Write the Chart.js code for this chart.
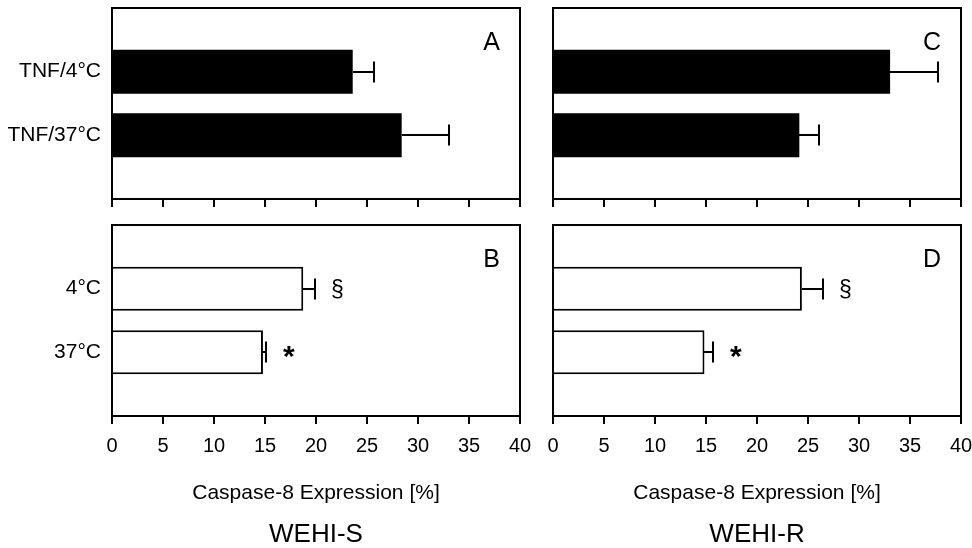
<!DOCTYPE html>
<html>
<head>
<meta charset="utf-8">
<script src="https://cdn.jsdelivr.net/npm/chart.js@4.4.1/dist/chart.umd.min.js"></script>
<style>
  html, body { margin: 0; padding: 0; background: #fff; overflow: hidden; width: 972px; height: 548px; }
  canvas { position: absolute; }
</style>
</head>
<body>
<canvas id="panelA" width="536" height="215" style="left:0;top:0"></canvas>
<canvas id="panelB" width="536" height="337" style="left:0;top:212px"></canvas>
<canvas id="panelC" width="436" height="215" style="left:536px;top:0"></canvas>
<canvas id="panelD" width="436" height="337" style="left:536px;top:212px"></canvas>
<script>
// Category labels for the upper (TNF-treated) and lower (untreated) panels
const tnfLabels = ['TNF/4°C', 'TNF/37°C'];
const ctrlLabels = ['4°C', '37°C'];

// Value axis
const xMin = 0;
const xMax = 40;
const xStep = 5;
const xTitle = 'Caspase-8 Expression [%]';

// WEHI-S: mean caspase-8 expression and error (%)
const wehiS_tnf = [23.6, 28.4];
const wehiS_tnfErr = [2.1, 4.6];
const wehiS_ctrl = [18.75, 14.8];
const wehiS_ctrlErr = [1.15, 0.25];

// WEHI-R: mean caspase-8 expression and error (%)
const wehiR_tnf = [33.05, 24.15];
const wehiR_tnfErr = [4.65, 1.95];
const wehiR_ctrl = [24.4, 14.85];
const wehiR_ctrlErr = [2.05, 0.85];

// Significance marks for the lower panels
const sigMarks = ['§', '*'];

// Panel letters and cell-line names
const panelLetters = ['A', 'B', 'C', 'D'];
const cellLines = ['WEHI-S', 'WEHI-R'];

const FONT = "'Liberation Sans', Arial, Helvetica, sans-serif";
Chart.defaults.font.family = FONT;
Chart.defaults.color = '#000';

// Blank slots above and below the two bars keep them at 1/3 and 2/3 of the panel height
const pad = a => [null, ...a, null];

// Draws the frame, error bars, significance marks and panel letter
const panelDecor = {
  id: 'panelDecor',
  afterDatasetsDraw(chart, args, opts) {
    const ctx = chart.ctx;
    const xs = chart.scales.x;
    const meta = chart.getDatasetMeta(0);
    const values = chart.data.datasets[0].data;
    const errs = opts.errors || [];
    const marks = opts.marks || [];
    ctx.save();
    ctx.strokeStyle = '#000';
    ctx.fillStyle = '#000';
    ctx.lineWidth = 2;
    meta.data.forEach((bar, i) => {
      const v = values[i];
      const e = errs[i];
      if (v == null || e == null) return;
      const x0 = Math.round(bar.x);
      const x1 = Math.round(xs.getPixelForValue(v + e));
      const y = Math.round(bar.y);
      ctx.beginPath();
      ctx.moveTo(x0, y);
      ctx.lineTo(x1, y);
      ctx.moveTo(x1, y - 10.5);
      ctx.lineTo(x1, y + 10.5);
      ctx.stroke();
      const m = marks[i];
      if (m) {
        ctx.font = m === '*' ? 'bold 30px ' + FONT : '23px ' + FONT;
        const tm = ctx.measureText(m);
        const asc = tm.actualBoundingBoxAscent;
        const desc = tm.actualBoundingBoxDescent;
        ctx.textAlign = 'left';
        ctx.textBaseline = 'alphabetic';
        ctx.fillText(m, x1 + 17 + tm.actualBoundingBoxLeft, y + (asc - desc) / 2);
      }
    });
    ctx.restore();
  },
  afterDraw(chart, args, opts) {
    const ctx = chart.ctx;
    const a = chart.chartArea;
    ctx.save();
    ctx.strokeStyle = '#000';
    ctx.lineWidth = 2;
    ctx.strokeRect(a.left, a.top, a.right - a.left, a.bottom - a.top);
    ctx.font = '25px ' + FONT;
    ctx.fillStyle = '#000';
    ctx.textAlign = 'right';
    ctx.textBaseline = 'alphabetic';
    ctx.fillText(opts.letter, a.right - 20, a.top + 42);
    ctx.restore();
  }
};

function panelChart(id, cfg) {
  return new Chart(document.getElementById(id), {
    type: 'bar',
    data: {
      labels: ['', ...cfg.categories, ''],
      datasets: [{
        data: pad(cfg.values),
        backgroundColor: cfg.filled ? '#000' : '#fff',
        borderColor: '#000',
        borderWidth: cfg.filled ? 0 : 2,
        barPercentage: 0.69,
        categoryPercentage: 1
      }]
    },
    options: {
      indexAxis: 'y',
      responsive: false,
      animation: false,
      events: [],
      layout: { padding: cfg.padding },
      plugins: {
        legend: { display: false },
        tooltip: { enabled: false },
        title: cfg.title ? {
          display: true,
          text: cfg.title,
          position: 'bottom',
          fullSize: false,
          color: '#000',
          font: { size: 26, weight: 'normal', lineHeight: '28px' },
          padding: { top: 5, bottom: 0 }
        } : { display: false },
        panelDecor: {
          letter: cfg.letter,
          errors: pad(cfg.errors),
          marks: cfg.marks ? pad(cfg.marks) : []
        }
      },
      scales: {
        x: {
          type: 'linear',
          min: xMin,
          max: xMax,
          ticks: {
            stepSize: xStep,
            display: cfg.showX,
            autoSkip: false,
            maxRotation: 0,
            padding: 10,
            color: '#000',
            font: { size: 20, lineHeight: '24px' }
          },
          grid: {
            display: true,
            drawOnChartArea: false,
            drawTicks: true,
            tickLength: 8,
            lineWidth: 2,
            color: '#000'
          },
          border: { display: true, width: 2, color: '#000' },
          title: {
            display: cfg.showX,
            text: xTitle,
            color: '#000',
            font: { size: 21, lineHeight: '24px' },
            padding: { top: 0, bottom: 11 }
          },
          afterFit(s) {
            s.height = cfg.xHeight;
            s.paddingLeft = 0;
            s.paddingRight = 0;
          }
        },
        y: {
          type: 'category',
          offset: false,
          ticks: {
            display: cfg.showY,
            padding: 11,
            color: '#000',
            font: { size: 21 }
          },
          grid: { display: false, drawTicks: false },
          border: { display: true, width: 2, color: '#000' },
          afterFit(s) {
            s.width = cfg.yWidth;
            s.paddingTop = 0;
            s.paddingBottom = 0;
          }
        }
      }
    },
    plugins: [panelDecor]
  });
}

panelChart('panelA', {
  categories: tnfLabels, values: wehiS_tnf, errors: wehiS_tnfErr, filled: true,
  letter: panelLetters[0], showX: false, showY: true, xHeight: 16, yWidth: 112,
  padding: { top: 8, right: 16, bottom: 0, left: 0 }
});
panelChart('panelB', {
  categories: ctrlLabels, values: wehiS_ctrl, errors: wehiS_ctrlErr, marks: sigMarks, filled: false,
  letter: panelLetters[1], showX: true, showY: true, xHeight: 100, yWidth: 112, title: cellLines[0],
  padding: { top: 13, right: 16, bottom: 0, left: 0 }
});
panelChart('panelC', {
  categories: tnfLabels, values: wehiR_tnf, errors: wehiR_tnfErr, filled: true,
  letter: panelLetters[2], showX: false, showY: false, xHeight: 16, yWidth: 17,
  padding: { top: 8, right: 11, bottom: 0, left: 0 }
});
panelChart('panelD', {
  categories: ctrlLabels, values: wehiR_ctrl, errors: wehiR_ctrlErr, marks: sigMarks, filled: false,
  letter: panelLetters[3], showX: true, showY: false, xHeight: 100, yWidth: 17, title: cellLines[1],
  padding: { top: 13, right: 11, bottom: 0, left: 0 }
});
</script>
</body>
</html>
